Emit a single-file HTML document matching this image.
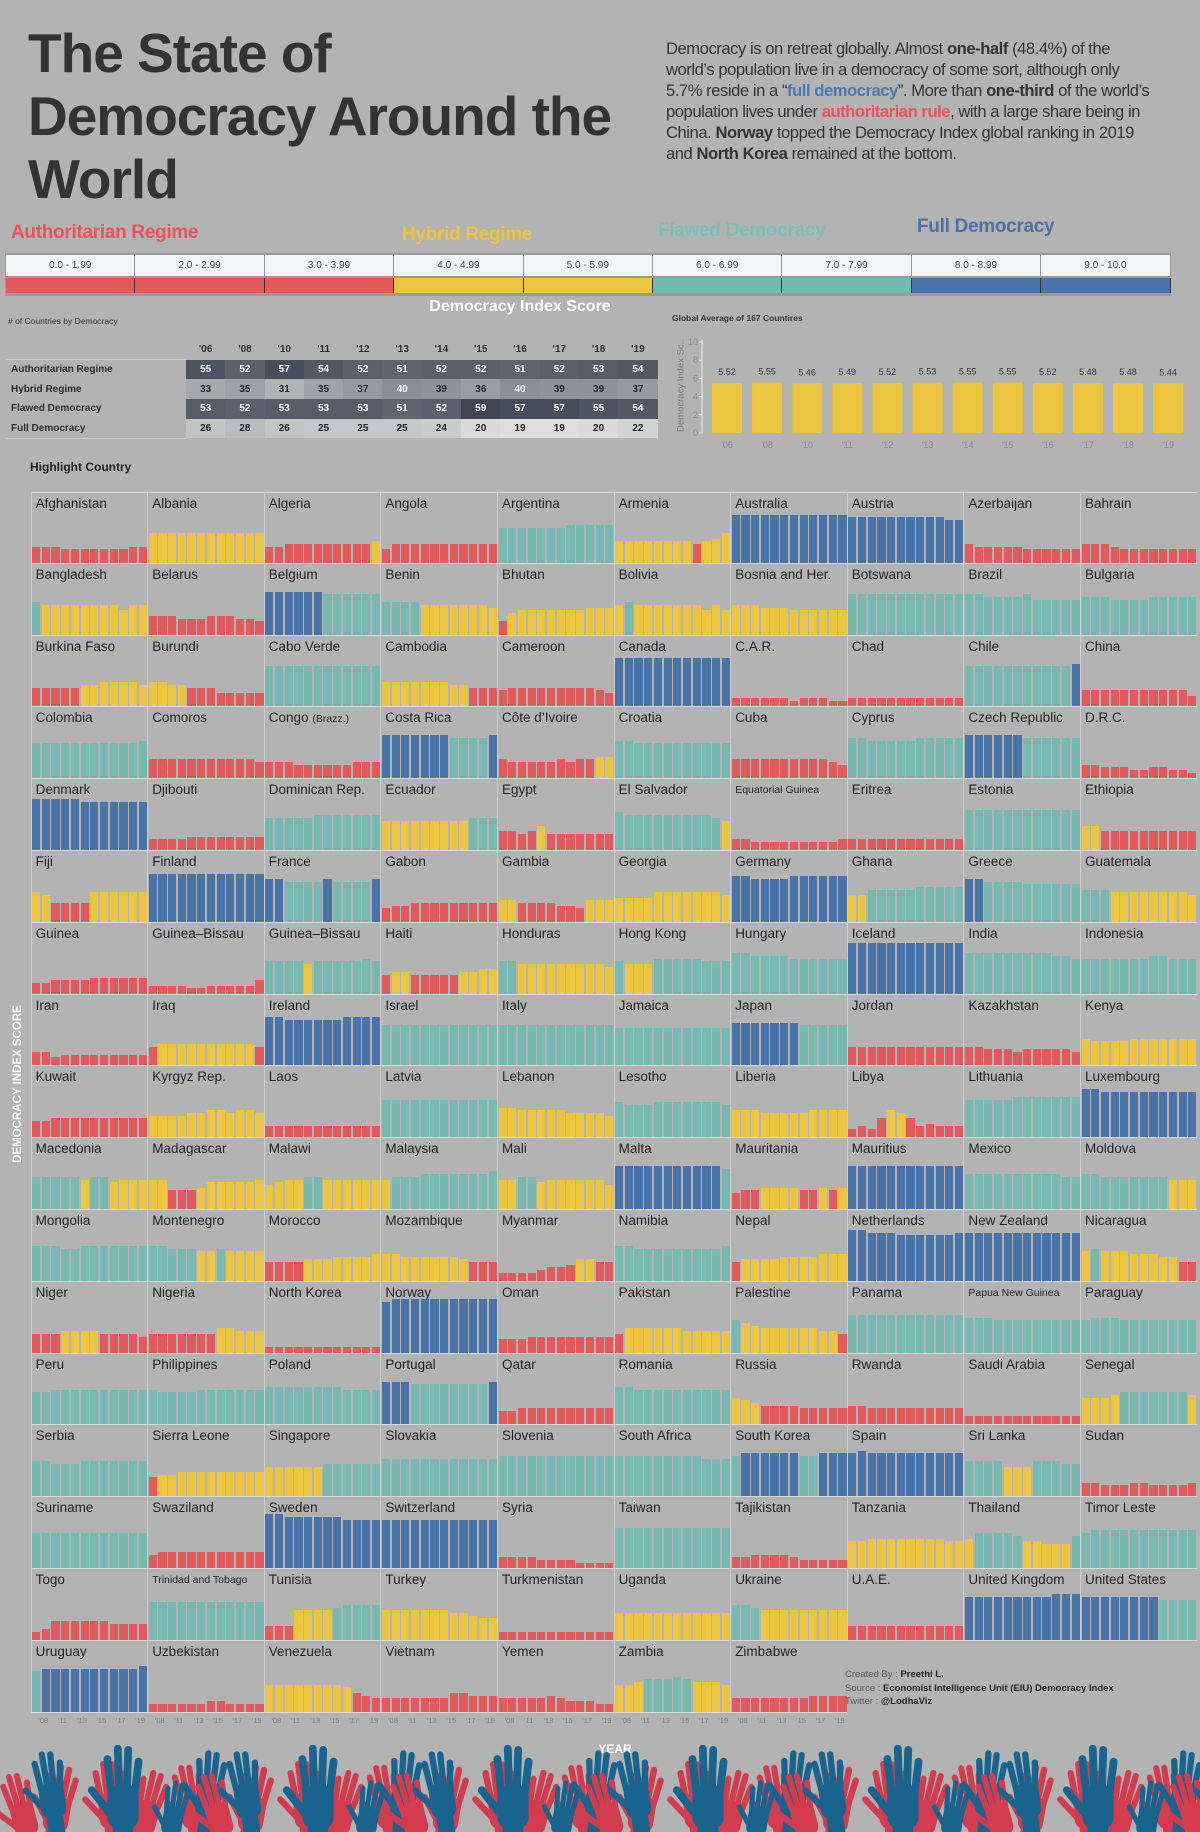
<!DOCTYPE html>
<html><head><meta charset="utf-8"><style>
*{margin:0;padding:0;box-sizing:border-box}
body{width:1200px;height:1832px;background:#b3b3b3;position:relative;overflow:hidden;font-family:"Liberation Sans",Arial,sans-serif;color:#2b2b2b}
.abs{position:absolute}
h1{position:absolute;left:28px;top:22px;font-size:55px;line-height:63px;font-weight:bold;color:#333;letter-spacing:-1px}
.para{left:666px;top:38px;width:560px;font-size:16.6px;line-height:21px;color:#333;letter-spacing:-0.45px;white-space:nowrap}
.cat{font-weight:bold;font-size:19px;letter-spacing:-0.3px}
.sc{top:255px;height:21px;background:#f3f5f8;border-right:1px solid #999;font-size:10px;color:#444;text-align:center;line-height:21px}
.cb{top:278px;height:15px;border-right:1px solid #333}
.tbl td{height:19.7px;font-size:10px;text-align:center;width:39.3px;font-weight:bold}
.c{position:absolute;width:116.6px;height:71.8px;border-left:1px solid rgba(230,230,230,.55);border-bottom:1px solid rgba(235,235,235,.7);overflow:hidden}
.c span{position:absolute;left:4px;top:3px;font-size:13.5px;color:#222;white-space:nowrap}
.c i{display:none}
.b{position:absolute;bottom:0;width:8.2px}
</style></head><body>
<h1>The State of<br>Democracy Around the<br>World</h1>
<div class="abs para">Democracy is on retreat globally. Almost <b>one-half</b> (48.4%) of the<br>world’s population live in a democracy of some sort, although only<br>5.7% reside in a “<b style="color:#4a78b0">full democracy</b>”. More than <b>one-third</b> of the world’s<br>population lives under <b style="color:#e8545a">authoritarian rule</b>, with a large share being in<br>China. <b>Norway</b> topped the Democracy Index global ranking in 2019<br>and <b>North Korea</b> remained at the bottom.</div>

<div class="abs cat" style="left:11px;top:222px;color:#e8545a">Authoritarian Regime</div>
<div class="abs cat" style="left:402px;top:224px;color:#eec53b">Hybrid Regime</div>
<div class="abs cat" style="left:658px;top:220px;color:#7ac1b5">Flawed Democracy</div>
<div class="abs cat" style="left:917px;top:216px;color:#4a72a6">Full Democracy</div>

<div class="abs" style="left:5px;top:253px;width:1166px;height:43px;background:#9a9a9a"></div>
<div class="abs sc" style="left:6px;width:129.4px">0.0 - 1.99</div>
<div class="abs sc" style="left:135.4px;width:129.4px">2.0 - 2.99</div>
<div class="abs sc" style="left:264.8px;width:129.4px">3.0 - 3.99</div>
<div class="abs sc" style="left:394.2px;width:129.4px">4.0 - 4.99</div>
<div class="abs sc" style="left:523.6px;width:129.4px">5.0 - 5.99</div>
<div class="abs sc" style="left:653px;width:129.4px">6.0 - 6.99</div>
<div class="abs sc" style="left:782.4px;width:129.4px">7.0 - 7.99</div>
<div class="abs sc" style="left:911.8px;width:129.4px">8.0 - 8.99</div>
<div class="abs sc" style="left:1041.2px;width:129.4px">9.0 - 10.0</div>
<div class="abs cb" style="left:6px;width:129.4px;background:#e35a5c"></div>
<div class="abs cb" style="left:135.4px;width:129.4px;background:#e35a5c"></div>
<div class="abs cb" style="left:264.8px;width:129.4px;background:#e35a5c"></div>
<div class="abs cb" style="left:394.2px;width:129.4px;background:#ecc640"></div>
<div class="abs cb" style="left:523.6px;width:129.4px;background:#ecc640"></div>
<div class="abs cb" style="left:653px;width:129.4px;background:#77b9b0"></div>
<div class="abs cb" style="left:782.4px;width:129.4px;background:#77b9b0"></div>
<div class="abs cb" style="left:911.8px;width:129.4px;background:#4a74a8"></div>
<div class="abs cb" style="left:1041.2px;width:129.4px;background:#4a74a8"></div>

<div class="abs" style="left:420px;top:298px;width:200px;text-align:center;color:#fff;font-weight:bold;font-size:16px">Democracy Index Score</div>
<div class="abs" style="left:8px;top:316px;font-size:8.5px;color:#333">
# of Countries by Democracy</div>

<table class="abs tbl" style="left:6px;top:340px;border-collapse:collapse">
<tr style="height:17px"><td style="width:180px"></td><td>'06</td><td>'08</td><td>'10</td><td>'11</td><td>'12</td><td>'13</td><td>'14</td><td>'15</td><td>'16</td><td>'17</td><td>'18</td><td>'19</td></tr>
<tr><td style="text-align:left;padding-left:5px;font-weight:bold;border-top:1px solid #ccc">Authoritarian Regime</td><td>55</td><td>52</td><td>57</td><td>54</td><td>52</td><td>51</td><td>52</td><td>52</td><td>51</td><td>52</td><td>53</td><td>54</td></tr>
<tr><td style="text-align:left;padding-left:5px;font-weight:bold">Hybrid Regime</td><td>33</td><td>35</td><td>31</td><td>35</td><td>37</td><td>40</td><td>39</td><td>36</td><td>40</td><td>39</td><td>39</td><td>37</td></tr>
<tr><td style="text-align:left;padding-left:5px;font-weight:bold">Flawed Democracy</td><td>53</td><td>52</td><td>53</td><td>53</td><td>53</td><td>51</td><td>52</td><td>59</td><td>57</td><td>57</td><td>55</td><td>54</td></tr>
<tr><td style="text-align:left;padding-left:5px;font-weight:bold;border-bottom:1px solid #ccc">Full Democracy</td><td>26</td><td>28</td><td>26</td><td>25</td><td>25</td><td>25</td><td>24</td><td>20</td><td>19</td><td>19</td><td>20</td><td>22</td></tr>
</table>

<div class="abs" style="left:672px;top:313px;font-size:8.5px;color:#333;font-weight:bold">Global Average of 167 Countires</div>
<div class="abs" style="left:621px;top:380px;width:120px;transform:rotate(-90deg);font-size:9.5px;color:#777;text-align:center;white-space:nowrap">Democracy Index Sc..</div>
<svg class="abs" style="left:680px;top:335px" width="520" height="120" id="gavg"></svg>

<div class="abs" style="left:30px;top:460px;font-size:12px;font-weight:bold;color:#222">Highlight Country</div>
<div class="abs" style="left:-82px;top:1078px;width:200px;transform:rotate(-90deg);color:#fff;font-weight:bold;font-size:11.5px;text-align:center;white-space:nowrap">DEMOCRACY INDEX SCORE</div>

<div id="grid">
<div class="c"><span>Afghanistan</span><i>gggfffffffgg</i></div>
<div class="c"><span>Albania</span><i>llllllllllll</i></div>
<div class="c"><span>Algeria</span><i>gghhhhhhhhhi</i></div>
<div class="c"><span>Angola</span><i>fhhhhhhhhhhh</i></div>
<div class="c"><span>Argentina</span><i>nnnnnnnooooo</i></div>
<div class="c"><span>Armenia</span><i>iiiiiiiihijl</i></div>
<div class="c"><span>Australia</span><i>ssssssssssss</i></div>
<div class="c"><span>Austria</span><i>rrrrrrrrrrqq</i></div>
<div class="c"><span>Azerbaijan</span><i>hgggggffffff</i></div>
<div class="c"><span>Bahrain</span><i>hhhgffffffff</i></div>
<div class="c"><span>Bangladesh</span><i>mlllllllljll</i></div>
<div class="c"><span>Belarus</span><i>hhhggghhhggf</i></div>
<div class="c"><span>Belgium</span><i>qqqqqqpppppp</i></div>
<div class="c"><span>Benin</span><i>mmmmlllllllk</i></div>
<div class="c"><span>Bhutan</span><i>fijjjjjjjkkk</i></div>
<div class="c"><span>Bolivia</span><i>lmllllllljlj</i></div>
<div class="c"><span>Bosnia and Her.</span><i>lllkkkjjjjjj</i></div>
<div class="c"><span>Botswana</span><i>pppppppppppp</i></div>
<div class="c"><span>Brazil</span><i>ppoooopnnnnn</i></div>
<div class="c"><span>Bulgaria</span><i>ooonnnnooooo</i></div>
<div class="c"><span>Burkina Faso</span><i>hhhhhiijjjji</i></div>
<div class="c"><span>Burundi</span><i>jjiihhhfffff</i></div>
<div class="c"><span>Cabo Verde</span><i>pppppppppppp</i></div>
<div class="c"><span>Cambodia</span><i>jjjjjjjiihhh</i></div>
<div class="c"><span>Cameroon</span><i>ghhhhhhhhhgf</i></div>
<div class="c"><span>Canada</span><i>ssssssssssss</i></div>
<div class="c"><span>C.A.R.</span><i>ddddddcdddcc</i></div>
<div class="c"><span>Chad</span><i>dddddddddddd</i></div>
<div class="c"><span>Chile</span><i>pppppppppppq</i></div>
<div class="c"><span>China</span><i>ggggggggggge</i></div>
<div class="c"><span>Colombia</span><i>nnnnnnnnnnno</i></div>
<div class="c"><span>Comoros</span><i>hhhhhhhhhhhg</i></div>
<div class="c"><span>Congo <small style="font-size:10.5px">(Brazz.)</small></span><i>gggffffffggg</i></div>
<div class="c"><span>Costa Rica</span><i>qqqqqqqppppq</i></div>
<div class="c"><span>Côte d’Ivoire</span><i>hggggghghhii</i></div>
<div class="c"><span>Croatia</span><i>oonnnnnnnnnn</i></div>
<div class="c"><span>Cuba</span><i>hhhhhhhhhhgf</i></div>
<div class="c"><span>Cyprus</span><i>ppoooooppppp</i></div>
<div class="c"><span>Czech Republic</span><i>qqqqqqpppppp</i></div>
<div class="c"><span>D.R.C.</span><i>ffeeeddeeddc</i></div>
<div class="c"><span>Denmark</span><i>tttttsssssss</i></div>
<div class="c"><span>Djibouti</span><i>eeeeffffffff</i></div>
<div class="c"><span>Dominican Rep.</span><i>mmmmmnnnnnnn</i></div>
<div class="c"><span>Ecuador</span><i>lllllllllmmm</i></div>
<div class="c"><span>Egypt</span><i>hhghjggggggg</i></div>
<div class="c"><span>El Salvador</span><i>onnnnnnnnnml</i></div>
<div class="c"><span style="font-size:10.5px;top:5px">Equatorial Guinea</span><i>eeddddddddde</i></div>
<div class="c"><span>Eritrea</span><i>eeeeeeeeeeee</i></div>
<div class="c"><span>Estonia</span><i>pppppppppppp</i></div>
<div class="c"><span>Ethiopia</span><i>jjhhhhhhhhhh</i></div>
<div class="c"><span>Fiji</span><i>lkhhhhllllll</i></div>
<div class="c"><span>Finland</span><i>ssssssssssss</i></div>
<div class="c"><span>France</span><i>qqppppqppppq</i></div>
<div class="c"><span>Gabon</span><i>fgghhhhhhhhh</i></div>
<div class="c"><span>Gambia</span><i>iihhhhggfiii</i></div>
<div class="c"><span>Georgia</span><i>jjjjlllllllk</i></div>
<div class="c"><span>Germany</span><i>rrqqqqrrrrrr</i></div>
<div class="c"><span>Ghana</span><i>kkmmmmmnnnnn</i></div>
<div class="c"><span>Greece</span><i>qqppppoooooo</i></div>
<div class="c"><span>Guatemala</span><i>mmmllllllllk</i></div>
<div class="c"><span>Guinea</span><i>eeffffgggggg</i></div>
<div class="c"><span>Guinea–Bissau</span><i>ddddccdddddf</i></div>
<div class="c"><span>Guinea–Bissau</span><i>mmmmlmmmmmnm</i></div>
<div class="c"><span>Haiti</span><i>hiihhhhhiijj</i></div>
<div class="c"><span>Honduras</span><i>mmlllllllllk</i></div>
<div class="c"><span>Hong Kong</span><i>mlllnnnnnmmm</i></div>
<div class="c"><span>Hungary</span><i>ppoooonnnnnn</i></div>
<div class="c"><span>Iceland</span><i>tttttttttttt</i></div>
<div class="c"><span>India</span><i>pppppppppoon</i></div>
<div class="c"><span>Indonesia</span><i>nnnnnnnoonnn</i></div>
<div class="c"><span>Iran</span><i>ffdeeeeeeeee</i></div>
<div class="c"><span>Iraq</span><i>hiiiiiiiiiih</i></div>
<div class="c"><span>Ireland</span><i>ssrrrrrrssss</i></div>
<div class="c"><span>Israel</span><i>pppppppppppp</i></div>
<div class="c"><span>Italy</span><i>pppppppppppp</i></div>
<div class="c"><span>Jamaica</span><i>oooooooooooo</i></div>
<div class="c"><span>Japan</span><i>qqqqqqqppppp</i></div>
<div class="c"><span>Jordan</span><i>hhhhhhhhhhhh</i></div>
<div class="c"><span>Kazakhstan</span><i>hhgggfgggggf</i></div>
<div class="c"><span>Kenya</span><i>kjjjjkkkkkkk</i></div>
<div class="c"><span>Kuwait</span><i>gghhhhhhhhhh</i></div>
<div class="c"><span>Kyrgyz Rep.</span><i>iiiijjkkjkkj</i></div>
<div class="c"><span>Laos</span><i>eeeeeeeeeeee</i></div>
<div class="c"><span>Latvia</span><i>oooooooooooo</i></div>
<div class="c"><span>Lebanon</span><i>llkkkkkjjjji</i></div>
<div class="c"><span>Lesotho</span><i>nmmmnnnnnnnm</i></div>
<div class="c"><span>Liberia</span><i>kkkjjjjjkkkk</i></div>
<div class="c"><span>Libya</span><i>dedhkjhefeee</i></div>
<div class="c"><span>Lithuania</span><i>oooooppppppp</i></div>
<div class="c"><span>Luxembourg</span><i>ssrrrrrrrrrr</i></div>
<div class="c"><span>Macedonia</span><i>mmmmmlmmklll</i></div>
<div class="c"><span>Madagascar</span><i>llhhhikkkkkl</i></div>
<div class="c"><span>Malawi</span><i>jkllmmllllll</i></div>
<div class="c"><span>Malaysia</span><i>lmmmnnnnnnno</i></div>
<div class="c"><span>Mali</span><i>llmmkllllllj</i></div>
<div class="c"><span>Malta</span><i>qqqqqqqqqqqp</i></div>
<div class="c"><span>Mauritania</span><i>ghhiiiihhihi</i></div>
<div class="c"><span>Mauritius</span><i>qqqqqqqqqqqq</i></div>
<div class="c"><span>Mexico</span><i>nnnnnnnnnnmm</i></div>
<div class="c"><span>Moldova</span><i>nnmmmmmmmlll</i></div>
<div class="c"><span>Mongolia</span><i>nnnmmnnnnnnn</i></div>
<div class="c"><span>Montenegro</span><i>nnmmmllmllll</i></div>
<div class="c"><span>Morocco</span><i>hhhhiiijjjjk</i></div>
<div class="c"><span>Mozambique</span><i>kkjjjjjjihhh</i></div>
<div class="c"><span>Myanmar</span><i>ddddeffgiihh</i></div>
<div class="c"><span>Namibia</span><i>nnmmmmmmmmmn</i></div>
<div class="c"><span>Nepal</span><i>hiiiijjjjkkk</i></div>
<div class="c"><span>Netherlands</span><i>ttsssrrrrrrs</i></div>
<div class="c"><span>New Zealand</span><i>ssssssssssss</i></div>
<div class="c"><span>Nicaragua</span><i>lmlllkkkjjhh</i></div>
<div class="c"><span>Niger</span><i>hhhiiiihhhhg</i></div>
<div class="c"><span>Nigeria</span><i>hhhhhhhjjiii</i></div>
<div class="c"><span>North Korea</span><i>cccccccccccc</i></div>
<div class="c"><span>Norway</span><i>tuuuuuuuuuuu</i></div>
<div class="c"><span>Oman</span><i>fffggggggggg</i></div>
<div class="c"><span>Pakistan</span><i>hjjjjjjiiiii</i></div>
<div class="c"><span>Palestine</span><i>mlkjjjjjjiih</i></div>
<div class="c"><span>Panama</span><i>oooooooooooo</i></div>
<div class="c"><span style="font-size:10.5px;top:5px">Papua New Guinea</span><i>nnnmmmmmmmmm</i></div>
<div class="c"><span>Paraguay</span><i>mnnnmmmmmmmm</i></div>
<div class="c"><span>Peru</span><i>mmnnnnnnnnnn</i></div>
<div class="c"><span>Philippines</span><i>nmmmmnnnnnnn</i></div>
<div class="c"><span>Poland</span><i>oooooooonnnn</i></div>
<div class="c"><span>Portugal</span><i>qqqppppppppq</i></div>
<div class="c"><span>Qatar</span><i>ffgggggggggg</i></div>
<div class="c"><span>Romania</span><i>oonnnnnnnnnn</i></div>
<div class="c"><span>Russia</span><i>kjihhhhggggg</i></div>
<div class="c"><span>Rwanda</span><i>hhgggggggggg</i></div>
<div class="c"><span>Saudi Arabia</span><i>dddddddddddd</i></div>
<div class="c"><span>Senegal</span><i>kkklmmmmmmml</i></div>
<div class="c"><span>Serbia</span><i>nnmmmnnnnnnn</i></div>
<div class="c"><span>Sierra Leone</span><i>hiijjjjjjjjj</i></div>
<div class="c"><span>Singapore</span><i>llllllmmmmmm</i></div>
<div class="c"><span>Slovakia</span><i>oooooooooooo</i></div>
<div class="c"><span>Slovenia</span><i>pppppppppppp</i></div>
<div class="c"><span>South Africa</span><i>pppppppppooo</i></div>
<div class="c"><span>South Korea</span><i>pqqqqqqppqqq</i></div>
<div class="c"><span>Spain</span><i>qrqqqqqqqqqq</i></div>
<div class="c"><span>Sri Lanka</span><i>nnnnlllnnnmm</i></div>
<div class="c"><span>Sudan</span><i>ffeeeffeeeef</i></div>
<div class="c"><span>Suriname</span><i>nnnnnnnnnnnn</i></div>
<div class="c"><span>Swaziland</span><i>fggggggggggg</i></div>
<div class="c"><span>Sweden</span><i>uuttttttssss</i></div>
<div class="c"><span>Switzerland</span><i>ssssssssssss</i></div>
<div class="c"><span>Syria</span><i>eeeeddddcccc</i></div>
<div class="c"><span>Taiwan</span><i>pppppppppppp</i></div>
<div class="c"><span>Tajikistan</span><i>eeffffeddddd</i></div>
<div class="c"><span>Tanzania</span><i>kkllllllllkk</i></div>
<div class="c"><span>Thailand</span><i>lnnnnmkkjjjm</i></div>
<div class="c"><span>Timor Leste</span><i>nooooooooooo</i></div>
<div class="c"><span>Togo</span><i>dehhhhhhgggg</i></div>
<div class="c"><span style="font-size:10.5px;top:5px">Trinidad and Tobago</span><i>oooooooooooo</i></div>
<div class="c"><span>Tunisia</span><i>fffllllmnnnn</i></div>
<div class="c"><span>Turkey</span><i>lllllllkkjii</i></div>
<div class="c"><span>Turkmenistan</span><i>dddddddddddd</i></div>
<div class="c"><span>Uganda</span><i>kkkkkkkkkkkk</i></div>
<div class="c"><span>Ukraine</span><i>nnmlllllllll</i></div>
<div class="c"><span>U.A.E.</span><i>ffffffffffff</i></div>
<div class="c"><span>United Kingdom</span><i>qqqqqqqqqrrr</i></div>
<div class="c"><span>United States</span><i>qqqqqqqqpppp</i></div>
<div class="c"><span>Uruguay</span><i>pqqqqqqqqqqr</i></div>
<div class="c"><span>Uzbekistan</span><i>ddddddeedddd</i></div>
<div class="c"><span>Venezuela</span><i>kkkkkkkkjhgf</i></div>
<div class="c"><span>Vietnam</span><i>fffffffhhggg</i></div>
<div class="c"><span>Yemen</span><i>fffffgfeeedd</i></div>
<div class="c"><span>Zambia</span><i>kklmmmnmlllk</i></div>
<div class="c"><span>Zimbabwe</span><i>ffffffffgggg</i></div>
</div>

<div class="abs" style="left:845px;top:1668px;font-size:9.5px;line-height:13.5px;color:#555">Created By : <b style="color:#222">Preethi L.</b><br>Source : <b style="color:#222">Economist Intelligence Unit (EIU) Democracy Index</b><br>Twitter : <b style="color:#222">@LodhaViz</b></div>
<div class="abs" style="left:580px;top:1742px;width:70px;text-align:center;color:#fff;font-weight:bold;font-size:12px">YEAR</div>

<svg class="abs" style="left:0;top:1745px" width="1200" height="87" id="hands">
<defs>
<g id="hd">
<rect x="-12" y="0" width="24" height="34" rx="9" fill="currentColor"/>
<rect x="-8" y="20" width="16" height="80" fill="currentColor"/>
<g stroke="currentColor" stroke-width="6" stroke-linecap="round">
<line x1="-9" y1="6" x2="-12" y2="-20"/><line x1="-3" y1="4" x2="-4" y2="-28"/>
<line x1="3" y1="4" x2="4" y2="-27"/><line x1="9" y1="6" x2="12" y2="-18"/>
<line x1="-10" y1="22" x2="-24" y2="4"/></g>
</g>
</defs>
</svg>

<script>
var col={r:'#e35a5c',y:'#ecc640',t:'#77b9b0',b:'#4a74a8'};
function cc(v){return v<4?col.r:v<6?col.y:v<8?col.t:col.b}
var cells=document.querySelectorAll('#grid .c');
var yl=["'08","'11","'13","'15","'17","'19"];
cells.forEach(function(c,k){
 var r=Math.floor(k/10),q=k%10;
 c.style.left=(30.6+q*116.6)+'px';c.style.top=(492+r*71.8)+'px';
 if(r==0)c.style.borderTop='1px solid rgba(235,235,235,.7)';
 var s=c.querySelector('i').textContent;
 for(var j=0;j<12;j++){var v=(s.charCodeAt(j)-97)*0.5;if(v<0.8)v=0.8;
  var b=document.createElement('div');b.className='b';b.style.left=(0.5+j*9.7)+'px';
  b.style.height=(v*5.36)+'px';b.style.background=cc(v);c.appendChild(b);}
 if(r==16){for(var m=0;m<6;m++){var t=document.createElement('div');t.className='abs';
  t.style.cssText='left:'+(30.6+q*116.6+9.7*(1+2*m)-2)+'px;top:1716px;font-size:7.5px;color:#7a7a7a';
  t.textContent=yl[m];document.body.appendChild(t);}}
});
document.querySelectorAll('.tbl tr').forEach(function(tr,i){if(i==0)return;
 tr.querySelectorAll('td').forEach(function(td,j){if(j==0)return;var v=+td.textContent;
 var t=Math.max(0,Math.min(1,(v-18)/(59-18)));
 var a=[226,226,226],bb=[62,70,84];var cl=a.map(function(x,n){return Math.round(x+(bb[n]-x)*t)});
 td.style.background='rgb('+cl+')';td.style.color=v>=40?'#fff':'#222';});});
var g=document.getElementById('gavg'),ns='http://www.w3.org/2000/svg';
var av=[5.52,5.55,5.46,5.49,5.52,5.53,5.55,5.55,5.52,5.48,5.48,5.44],ys=["'06","'08","'10","'11","'12","'13","'14","'15","'16","'17","'18","'19"];
function el(n,a,t){var e=document.createElementNS(ns,n);for(var k in a)e.setAttribute(k,a[k]);if(t)e.textContent=t;g.appendChild(e);return e}
el('line',{x1:22,y1:5,x2:22,y2:98,stroke:'#eee','stroke-width':1});
for(var k=0;k<=10;k+=2){var y=98-k*9.1;el('text',{x:18,y:y+3,'font-size':9,fill:'#888','text-anchor':'end','font-family':'Liberation Sans'},''+k);el('line',{x1:19,y1:y,x2:22,y2:y,stroke:'#eee'});}
for(var i=0;i<12;i++){var x=32+i*40.1;el('rect',{x:x,y:98-av[i]*9.1,width:30,height:av[i]*9.1,fill:'#ecc640'});
 el('text',{x:x+15,y:98-av[i]*9.1-8,'font-size':9,fill:'#333','text-anchor':'middle','font-family':'Liberation Sans'},av[i].toFixed(2));
 el('text',{x:x+15,y:113,'font-size':9,fill:'#888','text-anchor':'middle','font-family':'Liberation Sans'},ys[i]);}
var h=document.getElementById('hands');
function hand(x,y,s,c,rot){var u=document.createElementNS(ns,'use');u.setAttribute('href','#hd');
 u.setAttribute('transform','translate('+x+','+y+') rotate('+rot+') scale('+s+')');u.setAttribute('color',c);h.appendChild(u);}
var R='#d23c4e',B='#19648f';
for(var p=0;p<7;p++){var o=40+p*195;
 hand(o-20,58,1.0,R,-15);hand(o+20,52,1.05,R,10);hand(o+70,48,1.05,R,-5);hand(o+110,56,1.0,R,15);hand(o+150,50,1.0,R,-10);
 hand(o+10,38,1.05,B,-8);hand(o+83,40,1.3,B,0);hand(o+135,62,0.85,B,10);hand(o+170,38,1.05,B,5);}
</script>
</body></html>
